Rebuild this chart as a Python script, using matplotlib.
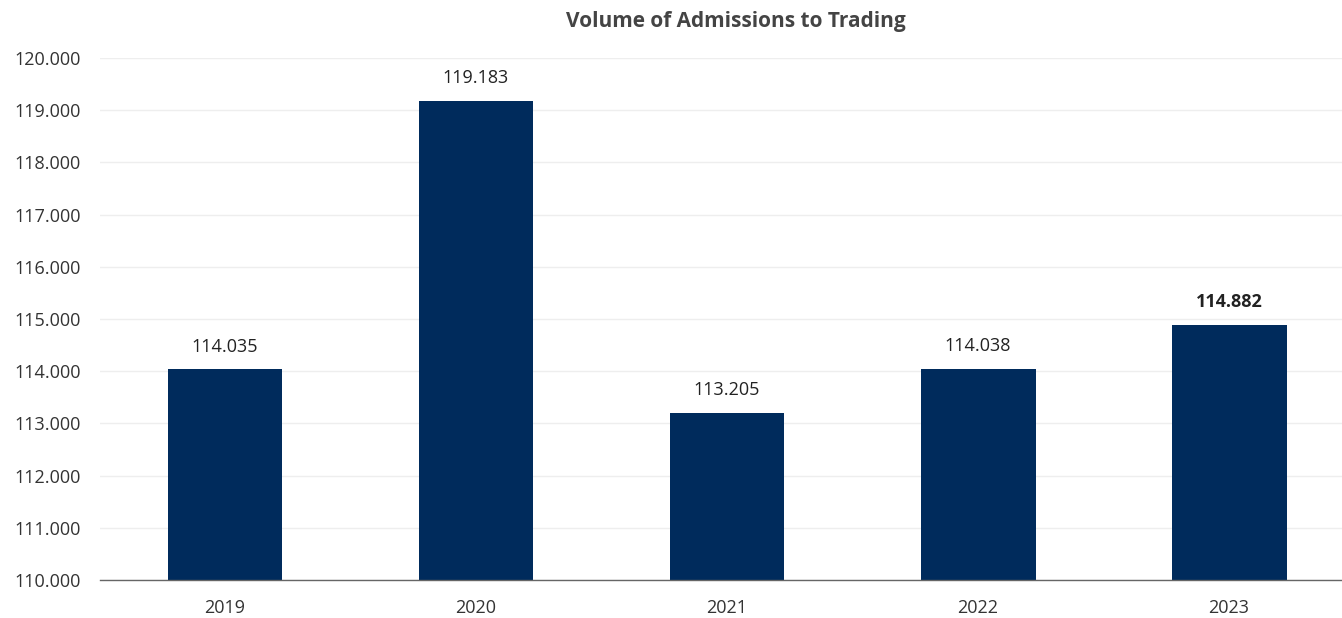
import matplotlib
matplotlib.use("Agg")
import matplotlib.pyplot as plt
from matplotlib.ticker import FuncFormatter

years = ["2019", "2020", "2021", "2022", "2023"]
volumes = [114035, 119183, 113205, 114038, 114882]
value_labels = ["114.035", "119.183", "113.205", "114.038", "114.882"]

plt.rcParams["font.family"] = ["Open Sans", "DejaVu Sans"]

fig = plt.figure(figsize=(13.42, 6.18), dpi=100)
ax = fig.add_axes([0.0745, 0.0615, 0.9255, 0.8445])

bar_color = "#002b5c"
x = list(range(len(years)))
ax.bar(x, volumes, width=0.458, color=bar_color, zorder=3)

ax.set_ylim(110000, 120000)
ax.set_xlim(-0.498, 4.45)
ax.set_yticks(range(110000, 120001, 1000))
ax.yaxis.set_major_formatter(FuncFormatter(lambda v, p: f"{int(v):,}".replace(",", ".")))
ax.set_xticks(x)
ax.set_xticklabels(years)

ax.grid(axis="y", color="#eeeeee", linewidth=1, zorder=0)
for s in ["top", "right", "left"]:
    ax.spines[s].set_visible(False)
ax.spines["bottom"].set_color("#666666")
ax.spines["bottom"].set_linewidth(1)
ax.spines["bottom"].set_zorder(4)

ax.tick_params(axis="y", length=0, labelsize=13, labelcolor="#333333", pad=14)
ax.tick_params(axis="x", length=0, labelsize=13, labelcolor="#333333", pad=14)

for i, (v, lab) in enumerate(zip(volumes, value_labels)):
    ax.annotate(lab, (i, v), xytext=(0, 10), textcoords="offset points",
                ha="center", va="bottom", fontsize=13, color="#222222",
                fontweight="bold" if i == len(years) - 1 else "normal")

fig.text(0.548, 0.966, "Volume of Admissions to Trading", ha="center", va="center",
         fontsize=15, fontweight="bold", color="#444444")

fig.savefig("out.png", dpi=100)
